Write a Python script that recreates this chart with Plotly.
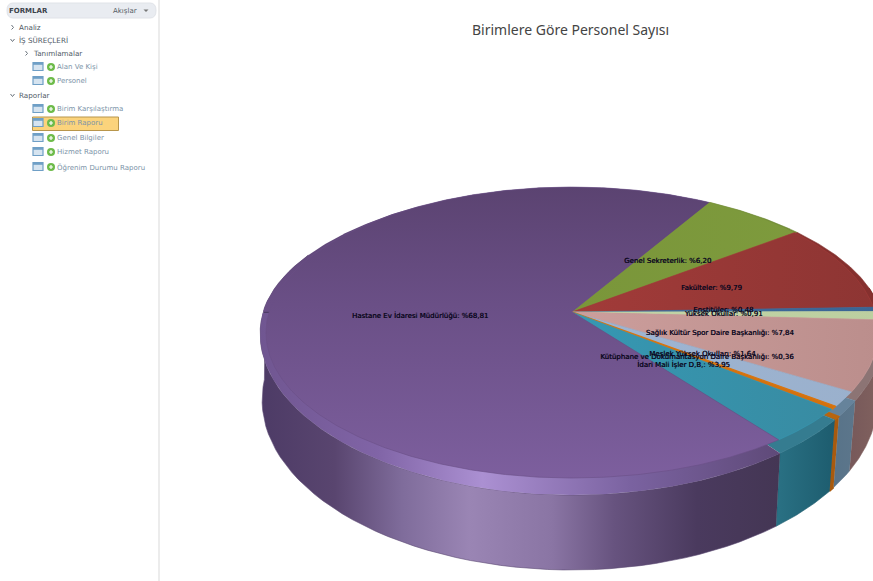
import numpy as np
import plotly.graph_objects as go

W, H = 873, 581

# Pie data, clockwise from the Genel Sekreterlik slice
slice_names = ["Genel Sekreterlik", "Fakülteler", "Enstitüler", "Yüksek Okullar",
               "Sağlık Kültür Spor Daire Başkanlığı", "Meslek Yüksek Okulları",
               "Kütüphane ve Dokümantasyon Daire Başkanlığı", "İdari Mali İşler D.B.",
               "Hastane Ev İdaresi Müdürlüğü"]
slice_values = [6.20, 9.79, 0.48, 0.91, 7.84, 1.64, 0.36, 3.95, 68.81]

top_colors = [["#7a963a", "#7f9c3e"], ["#a23b39", "#8d3533"], ["#3f6d9e", "#3a6594"],
              ["#c3d5a8", "#bccfa0"], ["#cc9e9c", "#bb8e8c"], ["#9eb5d3", "#9ab0cc"],
              ["#d9750f", "#d2700d"], ["#3598b3", "#39899f"], None]
rim_colors = ["#6f8a35", "#85302e", "#35598a", "#a9ba90", "#8c7474", "#66839b",
              "#b8650f", "#357c90", None]
wall_colors = [["#5c7530", "#5c7530"], ["#6e2927", "#6e2927"], ["#2c4c70", "#2c4c70"],
               ["#8a9a74", "#8a9a74"], ["#77595a", "#82625f"], ["#587389", "#5c768b"],
               ["#a85a0e", "#a85a0e"], ["#2a7184", "#1d5c6e"], None]
edge_widths = [0.6, 0.6, 0.6, 0.6, 0.6, 0.6, 1.4, 0.6, 0.6]

hastane_top = [[0, "#5b4371"], [0.4, "#6a4f86"], [1, "#7d5f9e"]]
hastane_rim = [[0, "#705691"], [0.22, "#8064a6"], [0.42, "#ab90d2"], [0.7, "#7a62a0"], [1, "#5d4876"]]
hastane_wall = [[0, "#4d3b66"], [0.14, "#59456f"], [0.27, "#7f6c9b"], [0.40, "#9a85b4"],
                [0.56, "#8a75a4"], [0.68, "#67537f"], [0.84, "#4a3a5e"], [1, "#443654"]]

CX, CY = 572.0, 312.0
START_DEG = 30.5
# Perspective disc of the top face: horizontal scale, vertical scale, foreshortening
FACE_A, FACE_B, FACE_K = 303.0, 142.6, 0.141
# Bevel width at the front and at the sides; wall height baseline and front gain
BEVEL_Y, BEVEL_X = 17.0, 6.0
WALL_H, WALL_GAIN = 65.0, 10.0


def unit(deg):
    t = np.radians(deg)
    return np.sin(t), -np.cos(t)


def face_point(deg, radius=1.0):
    u, v = unit(deg)
    u, v = radius * u, radius * v
    d = 1 - FACE_K * v
    return CX + FACE_A * u / d, CY + FACE_B * v / d


def rim_point(deg):
    x, y = face_point(deg)
    u, v = unit(deg)
    return x + BEVEL_X * u ** 3, y + BEVEL_Y * np.clip(v, 0, None)


def foot_point(deg):
    x, y = rim_point(deg)
    u, v = unit(deg)
    lean = np.where(u > 0, 6.6, 2.0) * u
    fx = x - lean
    # Past the left extreme the wall edge runs straight up behind the rim
    fx = np.where(deg > 270, rim_point(270.0)[0] + 2.0, fx)
    return fx, y + WALL_H + WALL_GAIN * np.clip(v, 0, None)


def gradient(kind, colorscale, start, stop):
    return dict(type=kind, colorscale=colorscale, start=start, stop=stop)


def polygon(xs, ys, fill_color=None, grad=None, edge=None, edge_width=0.6):
    style = dict(x=list(xs), y=list(ys), mode="lines", fill="toself", hoverinfo="skip",
                 showlegend=False,
                 line=dict(color=edge or fill_color or "rgba(0,0,0,0)", width=edge_width))
    if grad:
        style["fillgradient"] = grad
    else:
        style["fillcolor"] = fill_color
    return go.Scatter(**style)


total = sum(slice_values)
spans = np.array(slice_values) / total * 360
starts = START_DEG + np.concatenate([[0], np.cumsum(spans)[:-1]])
ends = starts + spans

fig = go.Figure()

# Side wall: only the part facing the viewer is drawn
for i in range(len(slice_values)):
    lo, hi = max(starts[i], 80), min(ends[i], 295)
    if hi <= lo:
        continue
    th = np.linspace(lo, hi, 60)
    x1, y1 = rim_point(th)
    x2, y2 = foot_point(th[::-1])
    xs, ys = np.r_[x1, x2], np.r_[y1, y2]
    if wall_colors[i] is None:
        g = gradient("horizontal", hastane_wall, 262, 780)
        fig.add_trace(polygon(xs, ys, grad=g, edge="#5c4a74"))
    else:
        g = gradient("horizontal", [[0, wall_colors[i][0]], [1, wall_colors[i][1]]],
                     float(xs.min()), float(xs.max()))
        fig.add_trace(polygon(xs, ys, grad=g, edge=wall_colors[i][1], edge_width=edge_widths[i]))

# Bevel ring between the wall and the top face
for i in range(len(slice_values)):
    th = np.linspace(starts[i], ends[i], max(4, int(spans[i] * 2)))
    xs, ys = rim_point(th)
    xs, ys = np.r_[CX, xs], np.r_[CY, ys]
    if rim_colors[i] is None:
        # Front arc catches the light; the far arc blends into the top face
        front = th <= 270
        bx, by = rim_point(th[~front])
        fig.add_trace(polygon(np.r_[CX, bx], np.r_[CY, by],
                              grad=gradient("vertical", hastane_top, 187, 480), edge="#5f4776", edge_width=0))
        fx, fy = rim_point(th[front])
        fig.add_trace(polygon(np.r_[CX, fx], np.r_[CY, fy],
                              grad=gradient("horizontal", hastane_rim, 260, 790), edge="#7a62a0", edge_width=0))
    else:
        fig.add_trace(polygon(xs, ys, fill_color=rim_colors[i], edge_width=edge_widths[i]))

# Top face of the pie
for i in range(len(slice_values)):
    th = np.linspace(starts[i], ends[i], max(4, int(spans[i] * 2)))
    xs, ys = face_point(th)
    xs, ys = np.r_[CX, xs], np.r_[CY, ys]
    if top_colors[i] is None:
        fig.add_trace(polygon(xs, ys, grad=gradient("vertical", hastane_top, 187, 480), edge="#6a4f86"))
    else:
        g = gradient("horizontal", [[0, top_colors[i][0]], [1, top_colors[i][1]]], CX, 880)
        fig.add_trace(polygon(xs, ys, grad=g, edge=top_colors[i][0], edge_width=edge_widths[i]))

# Slice labels sit halfway along each slice's middle angle
mid = (starts + ends) / 2
lx, ly = face_point(mid, 0.5)
labels = [f"{n}: %{v:.2f}".replace(".", ",") for n, v in zip(slice_names, slice_values)]
fig.add_trace(go.Scatter(x=lx, y=ly, text=labels, mode="text", textposition="middle center",
                         hoverinfo="skip", showlegend=False, cliponaxis=False,
                         textfont=dict(family="DejaVu Sans", size=7, color="#0c0820",
                                       shadow="0.35px 0 0 #0c0820")))

# Navigation tree on the left
tree_headers = ["Analiz", "İŞ SÜREÇLERİ", "Tanımlamalar", "Raporlar"]
tree_header_x = [19, 19, 33, 19]
tree_header_y = [27, 40, 53, 95]
tree_header_open = [False, True, False, True]
form_links = ["Alan Ve Kişi", "Personel", "Birim Karşılaştırma", "Birim Raporu",
              "Genel Bilgiler", "Hizmet Raporu", "Öğrenim Durumu Raporu"]
form_link_y = [67, 81, 109, 123, 138, 152, 167]

shapes = [
    dict(type="rect", x0=158, x1=160, y0=0, y1=581, fillcolor="#ececec", line_width=0, layer="below"),
    dict(type="path", path="M 13 3 H 150 Q 156 3 156 10.5 Q 156 18 150 18 H 13 Q 7 18 7 10.5 Q 7 3 13 3 Z",
         fillcolor="#e9ecf1", line=dict(color="#e0e3e8", width=1), layer="below"),
    dict(type="path", path="M 143.5 9.5 H 148.5 L 146 12 Z", fillcolor="#777777", line_width=0),
    dict(type="rect", x0=32.5, x1=118.5, y0=117, y1=130.5, fillcolor="#fbd37c",
         line=dict(color="#b8964c", width=1), layer="below"),
]
annotations = []


def text_at(x, y, s, size=7.2, color="#5d6b78", weight="normal"):
    # Annotation boxes carry about 2px of padding on the left
    annotations.append(dict(x=x - 2, y=y, text=s, showarrow=False, xanchor="left", yanchor="middle",
                            font=dict(family="DejaVu Sans", size=size, color=color, weight=weight)))


text_at(9, 10.5, "FORMLAR", size=7, color="#3d444c", weight="bold")
text_at(113, 11, "Akışlar", size=7, color="#555d66")

for s, x, y, opened in zip(tree_headers, tree_header_x, tree_header_y, tree_header_open):
    text_at(x, y, s, color="#4f5a66")
    gx = x - 7
    if opened:
        p = f"M {gx-1.5} {y-1} L {gx+0.5} {y+1.5} L {gx+2.5} {y-1}"
    else:
        p = f"M {gx-0.5} {y-2} L {gx+1.5} {y+0.5} L {gx-0.5} {y+2.5}"
    shapes.append(dict(type="path", path=p, line=dict(color="#6a737c", width=1)))

for s, y in zip(form_links, form_link_y):
    text_at(57, y, s, size=7, color="#7b93a8")
    shapes.append(dict(type="rect", x0=33, x1=43, y0=y - 4.5, y1=y + 3.5, fillcolor="#d6e4f0",
                       line=dict(color="#6f9fc6", width=1.2)))
    shapes.append(dict(type="rect", x0=33, x1=43, y0=y - 4.5, y1=y - 2.2, fillcolor="#6f9fc6", line_width=0))
    shapes.append(dict(type="circle", x0=47, x1=55, y0=y - 4, y1=y + 4, fillcolor="#6dbb4a", line_width=0))
    shapes.append(dict(type="path", path=f"M 49 {y} H 53 M 51 {y-2} V {y+2}",
                       line=dict(color="#ffffff", width=1.2)))

# Chart heading
annotations.append(dict(x=570, y=29, text="Birimlere Göre Personel Sayısı", showarrow=False,
                        xanchor="center", yanchor="middle",
                        font=dict(family="Noto Sans", size=14, color="#444444")))

fig.update_layout(
    width=W, height=H, margin=dict(l=0, r=0, t=0, b=0),
    paper_bgcolor="#ffffff", plot_bgcolor="#ffffff", showlegend=False,
    xaxis=dict(range=[0, W], visible=False, fixedrange=True),
    yaxis=dict(range=[H, 0], visible=False, fixedrange=True),
    shapes=shapes, annotations=annotations,
)
fig.write_html("out.html", config=dict(displayModeBar=False))
